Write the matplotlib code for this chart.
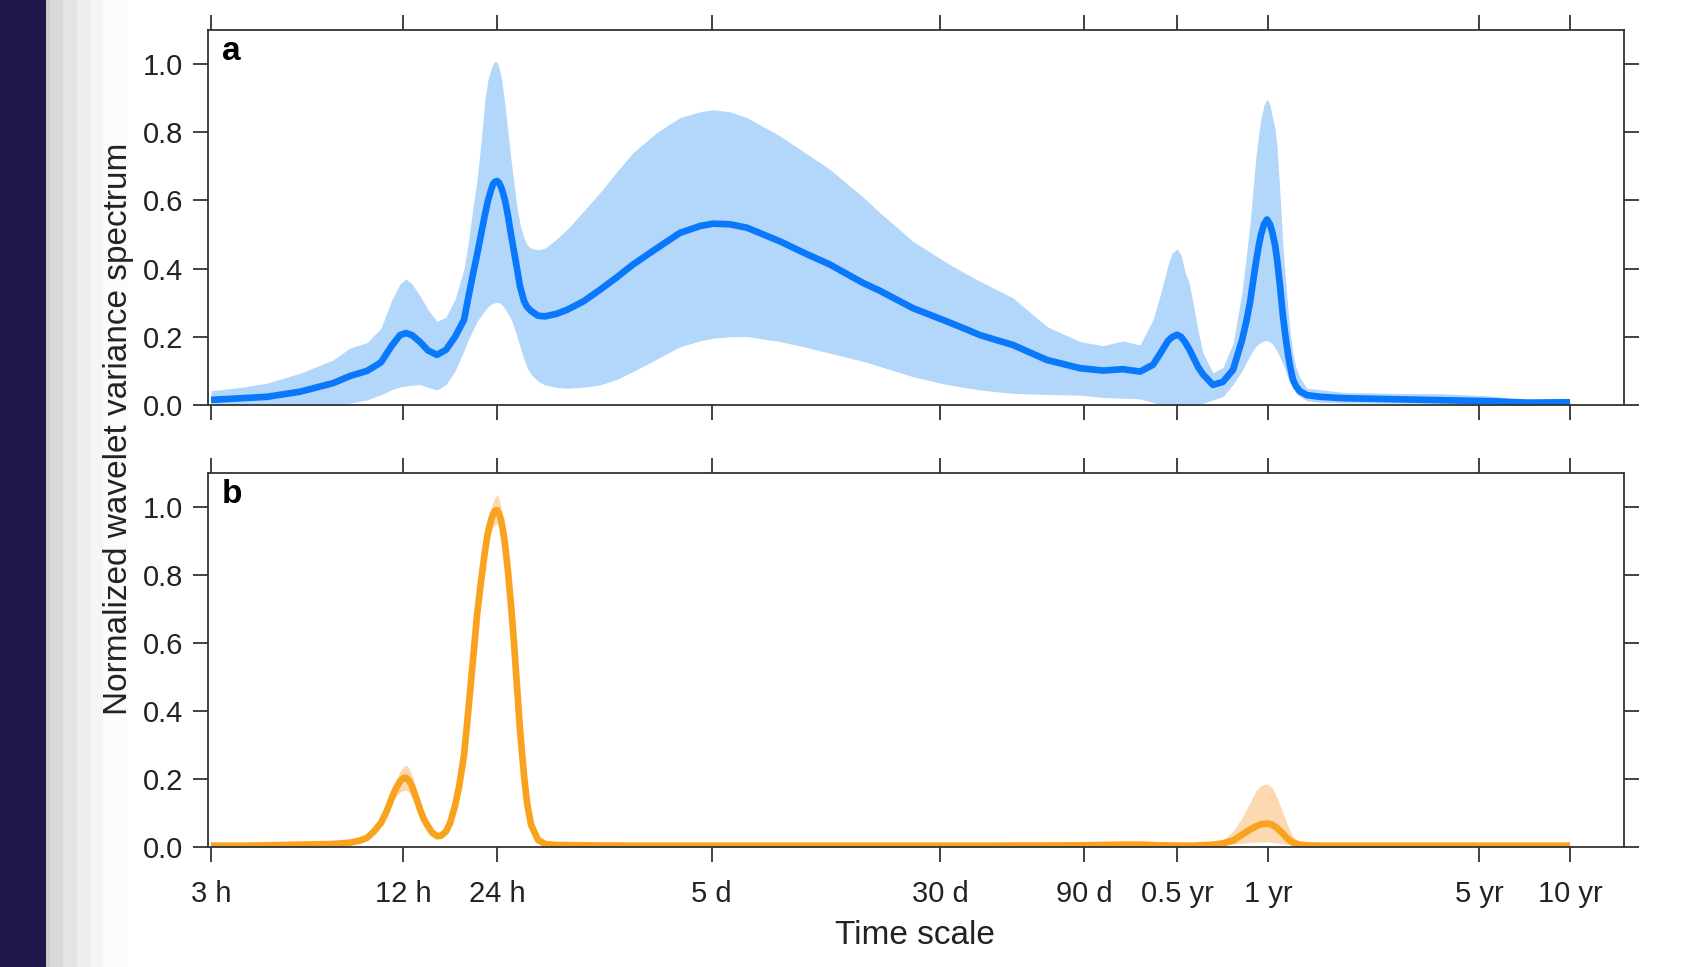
import matplotlib
matplotlib.use("Agg")
import matplotlib.pyplot as plt
from matplotlib.patches import Rectangle
from matplotlib.ticker import NullLocator, FixedLocator, FixedFormatter

plt.rcParams['font.family'] = ['Liberation Sans', 'DejaVu Sans']

# ---------------- data : panel a ----------------
a_period_h = [2.77, 3.51, 4.24, 5.46, 7.02, 7.99, 9.10, 10.12, 11.01, 11.70,
              12.25, 12.82, 13.63, 14.49, 15.51, 16.62, 17.80, 19.07, 19.65, 20.42,
              21.05, 21.70, 22.38, 22.89, 23.42, 23.78, 24.14, 24.52, 24.89, 25.27,
              25.66, 26.06, 26.66, 27.28, 27.91, 28.56, 29.22, 30.12, 30.82, 31.77,
              33.51, 35.35, 38.44, 41.81, 47.60, 53.75, 61.22, 69.13, 83.04, 98.94,
              115.3, 127.3, 144.9, 164.9, 212.1, 256.6, 310.4, 399.5, 454.6, 584.6,
              757.5, 856.1, 974.5, 1253, 1624, 2089, 2490, 2899, 3301, 3645,
              3845, 4086, 4214, 4377, 4513, 4651, 4796, 4944, 5137, 5335,
              5759, 6216, 6708, 7184, 7406, 7636, 7812, 7994, 8177, 8305,
              8495, 8693, 8893, 9031, 9239, 9380, 9598, 9820, 10048, 10202,
              10358, 10597, 10843, 11179, 11792, 13020, 15516, 22716, 33252, 48696,
              63108, 87600]

a_mean = [0.015, 0.020, 0.024, 0.039, 0.064, 0.085, 0.100, 0.125, 0.175, 0.205,
          0.211, 0.205, 0.185, 0.160, 0.147, 0.162, 0.200, 0.250, 0.310, 0.385,
          0.440, 0.500, 0.560, 0.600, 0.630, 0.648, 0.655, 0.657, 0.652, 0.640,
          0.622, 0.600, 0.555, 0.500, 0.450, 0.400, 0.348, 0.305, 0.288, 0.276,
          0.262, 0.260, 0.267, 0.279, 0.305, 0.338, 0.375, 0.412, 0.460, 0.505,
          0.525, 0.532, 0.530, 0.520, 0.480, 0.445, 0.412, 0.358, 0.335, 0.284,
          0.245, 0.226, 0.205, 0.176, 0.132, 0.108, 0.101, 0.105, 0.098, 0.118,
          0.150, 0.188, 0.199, 0.206, 0.200, 0.185, 0.165, 0.142, 0.112, 0.090,
          0.059, 0.068, 0.103, 0.190, 0.240, 0.300, 0.360, 0.420, 0.470, 0.500,
          0.530, 0.544, 0.530, 0.510, 0.470, 0.430, 0.350, 0.260, 0.190, 0.150,
          0.115, 0.074, 0.055, 0.040, 0.029, 0.024, 0.020, 0.017, 0.014, 0.011,
          0.007, 0.008]

a_upper = [0.042, 0.052, 0.064, 0.093, 0.132, 0.167, 0.183, 0.225, 0.310, 0.355,
           0.370, 0.355, 0.320, 0.280, 0.245, 0.258, 0.310, 0.400, 0.470, 0.580,
           0.660, 0.770, 0.900, 0.955, 0.985, 1.000, 1.008, 1.005, 0.990, 0.965,
           0.925, 0.880, 0.800, 0.720, 0.650, 0.580, 0.530, 0.490, 0.470, 0.460,
           0.455, 0.460, 0.485, 0.515, 0.570, 0.623, 0.685, 0.740, 0.800, 0.843,
           0.860, 0.866, 0.860, 0.843, 0.789, 0.740, 0.691, 0.610, 0.564, 0.480,
           0.417, 0.390, 0.363, 0.314, 0.230, 0.186, 0.174, 0.188, 0.176, 0.250,
           0.320, 0.410, 0.445, 0.458, 0.440, 0.390, 0.360, 0.300, 0.220, 0.152,
           0.095, 0.110, 0.180, 0.330, 0.430, 0.530, 0.630, 0.730, 0.800, 0.840,
           0.880, 0.897, 0.880, 0.850, 0.810, 0.760, 0.620, 0.460, 0.350, 0.280,
           0.220, 0.152, 0.110, 0.080, 0.049, 0.045, 0.037, 0.034, 0.033, 0.026,
           0.012, 0.013]

a_lower = [0.004, 0.002, 0.000, 0.000, 0.000, 0.005, 0.015, 0.030, 0.045, 0.053,
           0.056, 0.058, 0.060, 0.052, 0.044, 0.060, 0.100, 0.160, 0.190, 0.220,
           0.245, 0.262, 0.278, 0.288, 0.295, 0.298, 0.300, 0.301, 0.300, 0.296,
           0.290, 0.282, 0.268, 0.252, 0.228, 0.200, 0.170, 0.135, 0.110, 0.090,
           0.070, 0.059, 0.052, 0.049, 0.052, 0.059, 0.075, 0.098, 0.135, 0.171,
           0.188, 0.196, 0.200, 0.201, 0.186, 0.170, 0.152, 0.128, 0.113, 0.083,
           0.060, 0.052, 0.044, 0.034, 0.031, 0.029, 0.022, 0.020, 0.018, 0.008,
           0.000, 0.000, 0.000, 0.000, 0.000, 0.000, 0.000, 0.000, 0.002, 0.005,
           0.015, 0.025, 0.060, 0.100, 0.123, 0.145, 0.160, 0.172, 0.180, 0.184,
           0.188, 0.189, 0.185, 0.180, 0.168, 0.158, 0.140, 0.120, 0.095, 0.080,
           0.068, 0.050, 0.035, 0.025, 0.012, 0.008, 0.006, 0.005, 0.004, 0.002,
           0.000, 0.003]

# ---------------- data : panel b ----------------
b_period_h = [2.77, 3.51, 4.24, 5.46, 7.02, 7.99, 8.63, 9.10, 9.60, 10.12,
              10.52, 11.01, 11.35, 11.70, 11.97, 12.25, 12.53, 12.82, 13.22, 13.63,
              14.05, 14.49, 14.93, 15.51, 15.99, 16.62, 17.13, 17.80, 18.35, 19.07,
              19.65, 20.42, 21.05, 21.70, 22.38, 22.89, 23.42, 23.78, 24.14, 24.52,
              24.89, 25.27, 25.66, 26.06, 26.66, 27.28, 27.91, 28.56, 29.22, 30.12,
              30.82, 31.77, 33.51, 35.35, 38.44, 47.60, 69.13, 127.3, 310.4, 974.5,
              2089, 2490, 2899, 3301, 3845, 4944, 5759, 6216, 6708, 7184,
              7636, 7994, 8305, 8693, 9031, 9380, 9820, 10202, 10597, 11179,
              11792, 13020, 22716, 48696, 87600]

b_mean = [0.003, 0.003, 0.004, 0.006, 0.008, 0.012, 0.018, 0.026, 0.045, 0.070,
          0.100, 0.145, 0.172, 0.192, 0.201, 0.203, 0.195, 0.178, 0.145, 0.110,
          0.080, 0.060, 0.042, 0.031, 0.032, 0.045, 0.069, 0.120, 0.175, 0.270,
          0.390, 0.550, 0.680, 0.780, 0.870, 0.925, 0.960, 0.978, 0.988, 0.990,
          0.980, 0.962, 0.930, 0.890, 0.810, 0.710, 0.600, 0.470, 0.343, 0.210,
          0.130, 0.065, 0.020, 0.008, 0.005, 0.004, 0.003, 0.003, 0.003, 0.003,
          0.004, 0.005, 0.006, 0.006, 0.004, 0.003, 0.006, 0.010, 0.018, 0.035,
          0.050, 0.060, 0.066, 0.068, 0.065, 0.055, 0.038, 0.022, 0.012, 0.006,
          0.004, 0.003, 0.003, 0.003, 0.003]

b_upper = [0.005, 0.005, 0.006, 0.008, 0.010, 0.015, 0.021, 0.030, 0.050, 0.078,
           0.112, 0.163, 0.195, 0.222, 0.235, 0.240, 0.232, 0.212, 0.172, 0.128,
           0.092, 0.068, 0.047, 0.035, 0.036, 0.049, 0.074, 0.127, 0.183, 0.280,
           0.400, 0.565, 0.700, 0.800, 0.895, 0.955, 0.995, 1.015, 1.028, 1.035,
           1.025, 1.000, 0.962, 0.915, 0.830, 0.725, 0.610, 0.480, 0.350, 0.215,
           0.135, 0.068, 0.022, 0.010, 0.007, 0.006, 0.005, 0.005, 0.005, 0.005,
           0.006, 0.007, 0.008, 0.008, 0.006, 0.005, 0.008, 0.020, 0.045, 0.085,
           0.130, 0.165, 0.180, 0.185, 0.175, 0.145, 0.100, 0.060, 0.030, 0.012,
           0.006, 0.005, 0.005, 0.005, 0.005]

b_lower = [0.001, 0.001, 0.002, 0.004, 0.006, 0.009, 0.015, 0.022, 0.040, 0.062,
           0.088, 0.127, 0.148, 0.160, 0.165, 0.166, 0.160, 0.146, 0.120, 0.092,
           0.068, 0.052, 0.037, 0.027, 0.028, 0.041, 0.064, 0.113, 0.167, 0.260,
           0.380, 0.535, 0.660, 0.760, 0.845, 0.895, 0.925, 0.940, 0.948, 0.950,
           0.942, 0.926, 0.898, 0.862, 0.790, 0.695, 0.590, 0.460, 0.336, 0.205,
           0.125, 0.062, 0.018, 0.006, 0.004, 0.003, 0.002, 0.002, 0.002, 0.002,
           0.003, 0.004, 0.004, 0.004, 0.003, 0.002, 0.004, 0.006, 0.008, 0.010,
           0.012, 0.013, 0.014, 0.014, 0.013, 0.011, 0.008, 0.006, 0.004, 0.003,
           0.002, 0.001, 0.001, 0.001, 0.001]

tick_hours = [2.77, 12, 24.5, 126, 720, 2160, 4380, 8760, 43800, 87600]
tick_labels = ['3 h', '12 h', '24 h', '5 d', '30 d', '90 d', '0.5 yr', '1 yr', '5 yr', '10 yr']
y_ticks = [0.0, 0.2, 0.4, 0.6, 0.8, 1.0]
panel_letters = ['a', 'b']

# ---------------- styling ----------------
BLUE, BLUE_FILL = '#0a78fb', '#b3d6fb'
ORANGE, ORANGE_FILL = '#f9a21e', '#fdd9b1'
SPINE = '#333333'
TXT = '#222222'

W, H = 1682, 967
fig = plt.figure(figsize=(W / 100, H / 100), dpi=100)

# left decorative strips
strips = [(0, 45.7, '#1f194b'), (45.7, 50, '#cccccc'), (50, 63.3, '#d9d9d9'),
          (63.3, 76.7, '#e5e5e5'), (76.7, 90, '#eeeeee'), (90, 103.3, '#f5f5f5'),
          (103.3, 128, '#fbfbfb')]
for x0, x1, c in strips:
    fig.patches.append(Rectangle((x0 / W, 0), (x1 - x0) / W, 1, transform=fig.transFigure,
                                 facecolor=c, edgecolor='none', zorder=-10))

ax_left, ax_w = 208.3 / W, (1624 - 208.3) / W
ax_a = fig.add_axes([ax_left, 1 - 405 / H, ax_w, (405 - 30) / H])
ax_b = fig.add_axes([ax_left, 1 - 846.7 / H, ax_w, (846.7 - 472.7) / H])

series = [(ax_a, a_period_h, a_mean, a_lower, a_upper, BLUE, BLUE_FILL),
          (ax_b, b_period_h, b_mean, b_lower, b_upper, ORANGE, ORANGE_FILL)]

for i, (ax, x, m, lo, up, c, cf) in enumerate(series):
    ax.set_facecolor('none')
    ax.fill_between(x, lo, up, color=cf, linewidth=0, zorder=1)
    ax.plot(x, m, color=c, linewidth=4.8, solid_capstyle='butt',
            solid_joinstyle='round', zorder=2)
    ax.set_xscale('log')
    ax.set_xlim(2.713, 132240)
    ax.set_ylim(0, 1.1)
    ax.xaxis.set_major_locator(FixedLocator(tick_hours))
    ax.xaxis.set_minor_locator(NullLocator())
    ax.set_yticks(y_ticks)
    ax.set_yticklabels([f'{v:.1f}' for v in y_ticks])
    if i == 1:
        ax.xaxis.set_major_formatter(FixedFormatter(tick_labels))
    else:
        ax.xaxis.set_major_formatter(FixedFormatter([''] * len(tick_hours)))
    ax.tick_params(axis='both', which='major', direction='out', length=10.8, width=1.3,
                   color=SPINE, labelsize=21, labelcolor=TXT,
                   top=True, right=True, labeltop=False, labelright=False)
    ax.tick_params(axis='x', pad=13.5)
    ax.tick_params(axis='y', pad=7.5)
    for s in ax.spines.values():
        s.set_color(SPINE)
        s.set_linewidth(1.3)
    ax.text(0.0094, 1.011 / 1.1, panel_letters[i], transform=ax.transAxes,
            fontsize=24, fontweight='bold', color='black', va='baseline', ha='left')

fig.text(118 / W, 1 - 429 / H, 'Normalized wavelet variance spectrum', rotation=90,
         ha='center', va='center', fontsize=24, color=TXT)
fig.text(915 / W, 1 - 935 / H, 'Time scale', ha='center', va='center',
         fontsize=24, color=TXT)

fig.savefig('out.png', dpi=100, facecolor='white')
